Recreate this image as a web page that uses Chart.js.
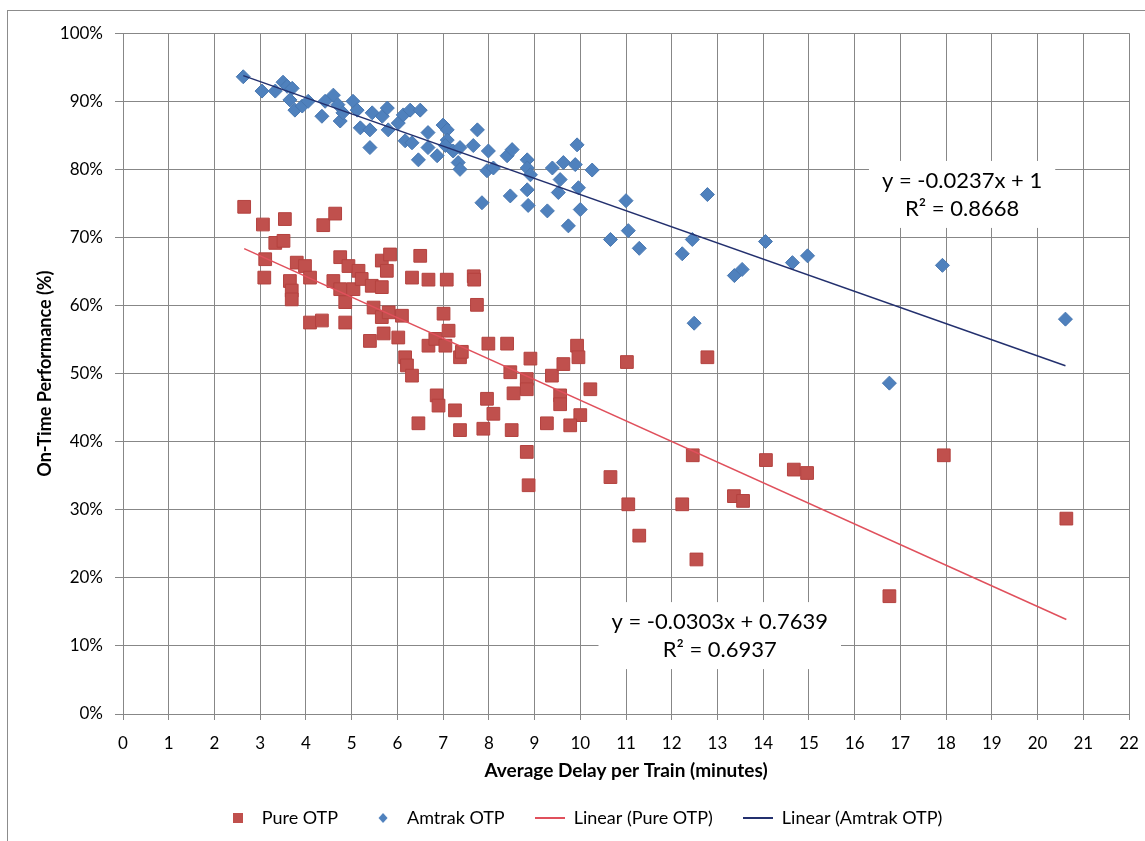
<!DOCTYPE html>
<html>
<head>
<meta charset="utf-8">
<title>On-Time Performance vs Average Delay</title>
<script src="https://cdn.jsdelivr.net/npm/chart.js@4.4.0/dist/chart.umd.min.js"></script>
<style>
html, body { margin: 0; padding: 0; background: #fff; overflow: hidden; }
#wrap { position: absolute; left: 7px; top: 10px; width: 1168px; height: 845px;
        border-left: 1px solid #8c8c8c; border-top: 1px solid #8c8c8c; }
</style>
</head>
<body>
<div id="wrap"><canvas id="otpChart" width="1168" height="845"></canvas></div>
<script>
// Pure OTP (red squares): delay in minutes, on-time %
var pureDelay = [2.65, 3.06, 3.54, 4.38, 4.64, 3.33, 3.51, 3.11, 3.09, 3.80, 3.98, 3.65, 3.69, 3.69, 4.09,
    4.75, 4.93, 5.15, 4.60, 4.75, 5.04, 5.22, 4.86, 4.86, 4.09, 4.35, 5.44, 5.66, 5.66, 5.84,
    5.77, 5.48, 5.66, 5.81, 6.10, 5.40, 5.70, 6.02, 6.17, 6.21, 6.32, 6.50, 6.32, 6.68, 6.68,
    7.08, 7.67, 7.68, 7.74, 7.01, 7.12, 6.83, 7.05, 7.37, 7.41, 7.99, 8.40, 8.91, 8.47, 8.83,
    8.83, 8.54, 9.38, 9.63, 9.93, 9.96, 9.56, 9.56, 10.22, 10.00, 9.78, 9.27, 8.50, 7.96, 8.10,
    7.88, 7.37, 7.26, 6.86, 6.90, 6.46, 8.83, 8.87, 10.66, 11.02, 12.78, 12.46, 14.06, 14.67, 14.96,
    11.05, 12.23, 13.36, 13.56, 11.29, 12.54, 16.76, 17.95, 20.63];
var pureOtp = [74.5, 71.9, 72.7, 71.8, 73.5, 69.2, 69.5, 66.8, 64.1, 66.3, 65.8, 63.6, 62.2, 60.9, 64.1,
    67.1, 65.8, 65.1, 63.6, 62.4, 62.4, 63.9, 60.5, 57.5, 57.5, 57.8, 62.9, 62.7, 66.6, 67.5,
    65.1, 59.7, 58.3, 59.0, 58.5, 54.8, 55.9, 55.3, 52.4, 51.2, 49.7, 67.3, 64.1, 63.8, 54.1,
    63.8, 64.3, 63.8, 60.1, 58.8, 56.3, 55.1, 54.1, 52.4, 53.2, 54.4, 54.4, 52.2, 50.2, 49.2,
    47.7, 47.1, 49.7, 51.4, 54.1, 52.4, 46.8, 45.5, 47.7, 43.9, 42.4, 42.7, 41.7, 46.3, 44.1,
    41.9, 41.7, 44.6, 46.8, 45.3, 42.7, 38.5, 33.6, 34.8, 51.7, 52.4, 38.0, 37.3, 35.9, 35.4,
    30.8, 30.8, 32.0, 31.3, 26.2, 22.7, 17.3, 38.0, 28.7];

// Amtrak OTP (blue diamonds)
var amtrakDelay = [2.63, 3.04, 3.33, 3.50, 3.59, 3.70, 3.65, 3.76, 3.92, 4.05, 4.35, 4.42, 4.60, 4.70, 4.75,
    4.81, 5.03, 5.12, 5.19, 5.45, 5.40, 5.40, 5.67, 5.78, 5.80, 6.02, 6.13, 6.28, 6.50, 6.17,
    6.32, 6.46, 6.67, 6.67, 6.87, 7.00, 7.09, 7.09, 7.05, 7.22, 7.37, 7.33, 7.37, 7.66, 7.75,
    7.99, 7.96, 8.10, 7.85, 8.40, 8.51, 8.47, 8.84, 8.84, 8.91, 8.84, 8.86, 9.28, 9.39, 9.56,
    9.63, 9.52, 9.93, 9.89, 9.96, 10.00, 9.74, 10.26, 11.00, 11.05, 10.66, 11.29, 12.23, 12.45, 12.78,
    12.49, 13.37, 13.54, 14.05, 14.64, 14.97, 17.92, 20.61, 16.76];
var amtrakOtp = [93.6, 91.5, 91.5, 92.8, 92.2, 91.9, 90.2, 88.7, 89.3, 90.0, 87.8, 90.0, 90.9, 89.5, 87.1,
    88.3, 90.0, 88.7, 86.1, 88.3, 85.8, 83.2, 87.8, 89.0, 85.8, 86.8, 88.0, 88.7, 88.7, 84.2,
    83.9, 81.4, 85.4, 83.2, 82.0, 86.5, 85.8, 84.3, 83.5, 82.7, 83.2, 81.0, 80.0, 83.5, 85.8,
    82.7, 79.8, 80.2, 75.1, 82.0, 82.9, 76.1, 81.4, 80.2, 79.2, 77.0, 74.7, 73.9, 80.2, 78.5,
    81.0, 76.6, 83.6, 80.7, 77.3, 74.1, 71.7, 79.9, 75.4, 71.0, 69.7, 68.4, 67.6, 69.7, 76.3,
    57.4, 64.4, 65.3, 69.4, 66.3, 67.3, 65.9, 58.0, 48.6];

// linear trendlines as labelled on the chart (y as fraction)
var pureSlope = -0.0303, pureIntercept = 0.7639, pureR2 = 0.6937;
var amtrakSlope = -0.0237, amtrakIntercept = 1, amtrakR2 = 0.8668;
var xTicks = { min: 0, max: 22, step: 1 };
var yTicks = { min: 0, max: 100, step: 10 };

function toPoints(xs, ys) {
    return xs.map(function (x, i) { return { x: x, y: ys[i] }; });
}
function trendPoints(xs, slope, intercept) {
    var lo = Math.min.apply(null, xs), hi = Math.max.apply(null, xs);
    return [lo, hi].map(function (x) { return { x: x, y: (slope * x + intercept) * 100 }; });
}

var red = '#C0504D', blue = '#4F81BD';
var redLine = '#E0505C', blueLine = '#23306E';

// small canvases used as legend symbols
function legendMark(w, h, draw) {
    var c = document.createElement('canvas');
    c.width = w; c.height = h;
    draw(c.getContext('2d'));
    return c;
}
var markPure = legendMark(10, 10, function (g) { g.fillStyle = red; g.fillRect(0, 0, 10, 10); });
var markAmtrak = legendMark(10, 10, function (g) {
    g.fillStyle = blue; g.beginPath();
    g.moveTo(5, 0); g.lineTo(9.5, 5); g.lineTo(5, 10); g.lineTo(0.5, 5); g.closePath(); g.fill();
});
var markPureLine = legendMark(30, 2, function (g) { g.fillStyle = redLine; g.fillRect(0, 0, 30, 2); });
var markAmtrakLine = legendMark(30, 2, function (g) { g.fillStyle = blueLine; g.fillRect(0, 0, 30, 2); });
var legendMarks = [markPure, markAmtrak, markPureLine, markAmtrakLine];

var trendNotes = [
    { x: 18.35, y: 78.3, lines: ['y = ' + amtrakSlope + 'x + ' + amtrakIntercept, 'R\u00B2 = ' + amtrakR2] },
    { x: 13.05, y: 13.5, lines: ['y = ' + pureSlope + 'x + ' + pureIntercept, 'R\u00B2 = ' + pureR2] }
];

var trendLabels = {
    id: 'trendLabels',
    afterDatasetsDraw: function (chart) {
        var c = chart.ctx, xs = chart.scales.x, ys = chart.scales.y;
        trendNotes.forEach(function (n) {
            var cx = xs.getPixelForValue(n.x), cy = ys.getPixelForValue(n.y);
            c.save();
            c.font = '22px Lato, "Liberation Sans", sans-serif';
            var w = Math.max(c.measureText(n.lines[0]).width, c.measureText(n.lines[1]).width) + 26;
            c.fillStyle = '#fff';
            c.fillRect(cx - w / 2, cy - 20, w, 67);
            c.fillStyle = '#000';
            c.textAlign = 'center';
            c.textBaseline = 'middle';
            c.fillText(n.lines[0], cx, cy);
            c.fillText(n.lines[1], cx, cy + 28);
            c.restore();
        });
    }
};

Chart.defaults.font.family = 'Lato, "Liberation Sans", sans-serif';
Chart.defaults.color = '#000';

var ctx = document.getElementById('otpChart').getContext('2d');
var otpChart = new Chart(ctx, {
    type: 'scatter',
    data: {
        datasets: [{
            label: 'Pure OTP',
            data: toPoints(pureDelay, pureOtp),
            pointStyle: 'rect',
            pointRadius: 9,
            backgroundColor: red,
            borderColor: '#B4423F',
            borderWidth: 1,
            order: 2
        }, {
            label: 'Amtrak OTP',
            data: toPoints(amtrakDelay, amtrakOtp),
            pointStyle: 'rectRot',
            pointRadius: 7,
            backgroundColor: blue,
            borderColor: '#4877B0',
            borderWidth: 1,
            order: 1
        }, {
            type: 'line',
            label: 'Linear (Pure OTP)',
            data: trendPoints(pureDelay, pureSlope, pureIntercept),
            borderColor: redLine,
            borderWidth: 1.5,
            pointRadius: 0,
            fill: false,
            order: 0
        }, {
            type: 'line',
            label: 'Linear (Amtrak OTP)',
            data: trendPoints(amtrakDelay, amtrakSlope, amtrakIntercept),
            borderColor: blueLine,
            borderWidth: 1.5,
            pointRadius: 0,
            fill: false,
            order: 0
        }]
    },
    options: {
        responsive: false,
        animation: false,
        layout: { padding: { top: 19, right: 47, bottom: 19, left: 28 } },
        plugins: {
            tooltip: { enabled: false },
            legend: {
                position: 'bottom',
                labels: {
                    usePointStyle: true,
                    pointStyleWidth: 30,
                    padding: 30,
                    font: { size: 18 },
                    color: '#000',
                    sort: function (a, b) { return a.datasetIndex - b.datasetIndex; },
                    generateLabels: function (chart) {
                        var items = Chart.defaults.plugins.legend.labels.generateLabels(chart);
                        items.forEach(function (it) { it.pointStyle = legendMarks[it.datasetIndex]; });
                        return items;
                    }
                }
            }
        },
        scales: {
            x: {
                type: 'linear',
                min: xTicks.min,
                max: xTicks.max,
                ticks: { stepSize: xTicks.step, padding: 13, font: { size: 17 }, color: '#000' },
                grid: { color: '#878787', tickLength: 6 },
                border: { color: '#878787' },
                title: {
                    display: true,
                    text: 'Average Delay per Train (minutes)',
                    font: { size: 19, weight: 'bold' },
                    padding: { top: 0, bottom: -3 }
                },
                afterFit: function (s) { s.height = 65; }
            },
            y: {
                min: yTicks.min,
                max: yTicks.max,
                ticks: {
                    stepSize: yTicks.step, padding: 12, font: { size: 17 }, color: '#000',
                    callback: function (v) { return v + '%'; }
                },
                grid: { color: '#878787', tickLength: 8 },
                border: { color: '#878787' },
                title: {
                    display: true,
                    text: 'On-Time Performance (%)',
                    font: { size: 18, weight: 'bold' },
                    padding: { top: -2, bottom: 0 }
                },
                afterFit: function (s) { s.width = 87; }
            }
        }
    },
    plugins: [trendLabels]
});
</script>
</body>
</html>
